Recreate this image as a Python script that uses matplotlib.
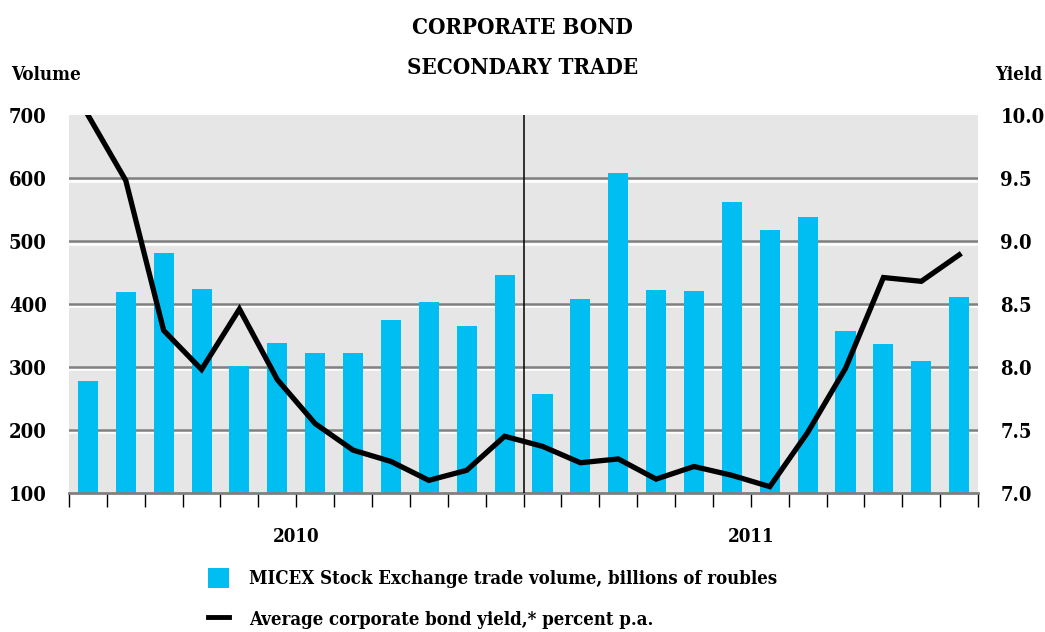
import matplotlib
matplotlib.use('Agg')
import matplotlib.pyplot as plt
import matplotlib.transforms as mtransforms
from matplotlib.lines import Line2D
from matplotlib.patches import Patch
import numpy as np

months = ['Jan', 'Feb', 'Mar', 'Apr', 'May', 'Jun', 'Jul', 'Aug', 'Sep', 'Oct', 'Nov', 'Dec'] * 2
years = ['2010', '2011']
volume = [278, 419, 481, 424, 302, 338, 322, 322, 375, 403, 365, 446,
          257, 408, 608, 422, 420, 562, 517, 538, 357, 336, 309, 411]
yield_pct = [10.0, 9.48, 8.29, 7.98, 8.46, 7.90, 7.55, 7.34, 7.25, 7.10, 7.18, 7.45,
             7.37, 7.24, 7.27, 7.11, 7.21, 7.14, 7.05, 7.48, 7.99, 8.71, 8.68, 8.89]

vol_ticks = [100, 200, 300, 400, 500, 600, 700]
yld_ticks = [7.0, 7.5, 8.0, 8.5, 9.0, 9.5, 10.0]

title_lines = ['CORPORATE BOND', 'SECONDARY TRADE']
bar_label = 'MICEX Stock Exchange trade volume, billions of roubles'
line_label = 'Average corporate bond yield,* percent p.a.'

FONT = dict(family='DejaVu Serif', stretch='condensed', weight='bold')
BLUE = '#00bdf2'

fig = plt.figure(figsize=(10.45, 6.32), dpi=100)
ax = fig.add_axes([0.066, 0.22, 0.870, 0.598])
ax.set_facecolor('#e6e6e6')

x = np.arange(len(volume))
ax.set_xlim(-0.5, len(volume) - 0.5)
ax.set_ylim(vol_ticks[0], vol_ticks[-1])

# grid: dark line with a white highlight just under it
ytrans = ax.get_yaxis_transform()
shadow = mtransforms.offset_copy(ytrans, fig=fig, y=-2.5, units='dots')
for v in vol_ticks[1:-1]:
    ax.plot([0, 1], [v, v], color='white', lw=1.8, transform=shadow, zorder=1)
    ax.plot([0, 1], [v, v], color='#808080', lw=1.8, transform=ytrans, zorder=1)

ax.bar(x, [v - vol_ticks[0] for v in volume], bottom=vol_ticks[0], width=0.53,
       color=BLUE, zorder=2)

# year divider
ax.axvline(11.5, color='black', lw=1.1, zorder=3)

for s in ['top', 'left', 'right']:
    ax.spines[s].set_visible(False)
ax.spines['bottom'].set_color('#808080')
ax.spines['bottom'].set_linewidth(2)

ax.set_xticks(np.arange(-0.5, len(volume), 1.0))
ax.set_xticklabels([])
ax.tick_params(axis='x', length=10, width=1, color='black', direction='out')
ax.set_yticks(vol_ticks)
ax.set_yticklabels([str(v) for v in vol_ticks], fontsize=14.5, **FONT)
ax.tick_params(axis='y', length=0, pad=16)

for i, yr in enumerate(years):
    ax.text(5.5 + 12 * i, -0.116, yr, transform=ax.get_xaxis_transform(),
            ha='center', va='center', fontsize=13.5, **FONT)

ax2 = ax.twinx()
ax2.set_ylim(yld_ticks[0], yld_ticks[-1])
ax2.plot(x, yield_pct, color='black', lw=3.8, solid_joinstyle='miter', zorder=4)
for s in ['top', 'left', 'right', 'bottom']:
    ax2.spines[s].set_visible(False)
ax2.set_yticks(yld_ticks)
ax2.set_yticklabels(['%.1f' % v for v in yld_ticks], fontsize=14.5, **FONT)
ax2.tick_params(axis='y', length=0, pad=16)

fig.text(0.011, 0.881, 'Volume', ha='left', va='center', fontsize=13.5, **FONT)
fig.text(0.997, 0.881, 'Yield', ha='right', va='center', fontsize=13.5, **FONT)
for txt, yc in zip(title_lines, [0.955, 0.893]):
    fig.text(0.5, yc, txt, ha='center', va='center', fontsize=16, **FONT)

handles = [Patch(facecolor=BLUE, edgecolor='none'),
           Line2D([0], [0], color='black', lw=3.5)]
fig.legend(handles, [bar_label, line_label], loc='upper left',
           bbox_to_anchor=(0.199, 0.102), frameon=False, borderpad=0,
           borderaxespad=0, handlelength=1.16, handleheight=1.33,
           handletextpad=1.05, labelspacing=1.1,
           prop=dict(size=13.3, **FONT))

fig.savefig('out.png', dpi=100)
